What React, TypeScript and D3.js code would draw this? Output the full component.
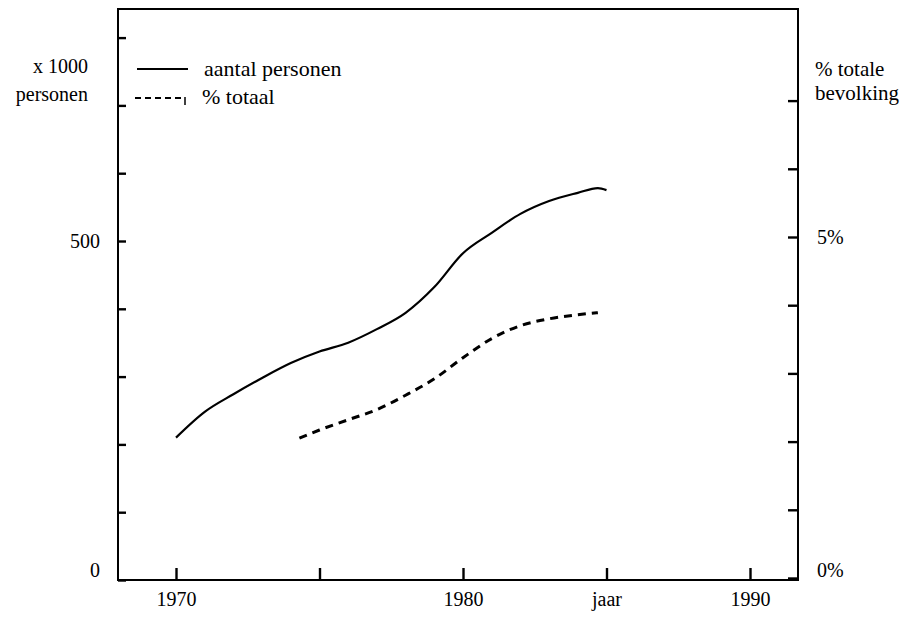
import React, { useRef, useEffect } from "react";
import { select, scaleLinear, line, curveMonotoneX, axisLeft, axisRight, axisBottom } from "d3";

// aantal personen (x 1000)
const personYears = [1970, 1971, 1972, 1973, 1974, 1975, 1976, 1977, 1978, 1979, 1980, 1981, 1982, 1983, 1984, 1984.7, 1985];
const personValues = [210, 248, 274, 298, 320, 337, 350, 370, 394, 432, 482, 512, 540, 559, 571, 578, 575];

// % totale bevolking
const pctYears = [1974.3, 1975, 1976, 1977, 1978, 1979, 1980, 1981, 1982, 1983, 1984, 1984.7];
const pctValues = [2.05, 2.17, 2.32, 2.47, 2.68, 2.92, 3.23, 3.51, 3.7, 3.8, 3.86, 3.89];

const leftTicks = [0, 100, 200, 300, 400, 500, 600, 700, 800];
const leftLabels = ["0", "", "", "", "", "500", "", "", ""];
const rightTicks = [0, 1, 2, 3, 4, 5, 6, 7];
const rightLabels = ["0%", "", "", "", "", "5%", "", ""];
const yearTicks = [1970, 1975, 1980, 1985, 1990];
const yearLabels = ["1970", "", "1980", "jaar", "1990"];
const legendLabels = ["aantal personen", "% totaal"];
const leftTitle = ["x 1000", "personen"];
const rightTitle = ["% totale", "bevolking"];

export default function App() {
    const svgRef = useRef<SVGSVGElement>(null);
    const width = 916;
    const height = 617;
    const frame = { left: 118, right: 798, top: 9, bottom: 580 };
    const font = "'Liberation Serif', 'DejaVu Serif', serif";

    useEffect(() => {
        draw();
    }, []);

    const draw = () => {
        const svg = select(svgRef.current);
        svg.selectAll("*").remove();

        const x = scaleLinear().domain([1970, 1990]).range([176, 750]);
        const yLeft = scaleLinear().domain([0, 500]).range([frame.bottom, 241]);
        const yRight = scaleLinear().domain([0, 5]).range([578, 237]);

        // frame
        svg.append("rect")
            .attr("x", frame.left)
            .attr("y", frame.top)
            .attr("width", frame.right - frame.left)
            .attr("height", frame.bottom - frame.top)
            .attr("fill", "none")
            .attr("stroke", "#000")
            .attr("stroke-width", 2);

        const styleAxis = (g: any) => {
            g.select(".domain").remove();
            g.selectAll(".tick line").attr("stroke", "#000").attr("stroke-width", 2.4);
            g.selectAll(".tick text")
                .attr("fill", "#000")
                .attr("font-family", font)
                .attr("font-size", 20);
        };

        svg.append("g")
            .attr("transform", `translate(${frame.left},0)`)
            .call(axisLeft(yLeft)
                .tickValues(leftTicks)
                .tickSizeInner(-8)
                .tickSizeOuter(0)
                .tickPadding(18)
                .tickFormat((d, i) => leftLabels[i]))
            .call(styleAxis)
            .call(g => g.selectAll(".tick text").filter((d: any) => d === 0).attr("y", -10));

        svg.append("g")
            .attr("transform", `translate(${frame.right},0)`)
            .call(axisRight(yRight)
                .tickValues(rightTicks)
                .tickSizeInner(-10)
                .tickSizeOuter(0)
                .tickPadding(19)
                .tickFormat((d, i) => rightLabels[i]))
            .call(styleAxis)
            .call(g => g.selectAll(".tick text").filter((d: any) => d === 0).attr("y", -8));

        svg.append("g")
            .attr("transform", `translate(0,${frame.bottom})`)
            .call(axisBottom(x)
                .tickValues(yearTicks)
                .tickSizeInner(-12)
                .tickSizeOuter(0)
                .tickPadding(12)
                .tickFormat((d, i) => yearLabels[i]))
            .call(styleAxis);

        // axis titles
        leftTitle.forEach((t, i) => {
            svg.append("text")
                .attr("x", 88)
                .attr("y", 73 + i * 28)
                .attr("text-anchor", "end")
                .attr("font-family", font)
                .attr("font-size", 20)
                .text(t);
        });
        rightTitle.forEach((t, i) => {
            svg.append("text")
                .attr("x", 815)
                .attr("y", 76 + i * 24)
                .attr("font-family", font)
                .attr("font-size", 21)
                .text(t);
        });

        // series
        const personLine = line<number>()
            .x((d, i) => x(personYears[i]))
            .y(d => yLeft(d))
            .curve(curveMonotoneX);
        svg.append("path")
            .attr("d", personLine(personValues))
            .attr("fill", "none")
            .attr("stroke", "#000")
            .attr("stroke-width", 2.2);

        const pctLine = line<number>()
            .x((d, i) => x(pctYears[i]))
            .y(d => yRight(d))
            .curve(curveMonotoneX);
        svg.append("path")
            .attr("d", pctLine(pctValues))
            .attr("fill", "none")
            .attr("stroke", "#000")
            .attr("stroke-width", 3)
            .attr("stroke-dasharray", "8 6");

        // legend
        const legend = svg.append("g").attr("font-family", font).attr("font-size", 22);
        legend.append("line")
            .attr("x1", 137).attr("x2", 188)
            .attr("y1", 69).attr("y2", 69)
            .attr("stroke", "#000").attr("stroke-width", 2);
        legend.append("text")
            .attr("x", 204).attr("y", 69).attr("dy", "0.32em")
            .text(legendLabels[0]);
        legend.append("line")
            .attr("x1", 135).attr("x2", 185)
            .attr("y1", 98).attr("y2", 98)
            .attr("stroke", "#000").attr("stroke-width", 2)
            .attr("stroke-dasharray", "6 4");
        legend.append("line")
            .attr("x1", 185).attr("x2", 185)
            .attr("y1", 97).attr("y2", 105)
            .attr("stroke", "#000").attr("stroke-width", 1.5);
        legend.append("text")
            .attr("x", 202).attr("y", 97).attr("dy", "0.32em")
            .text(legendLabels[1]);
    };

    return (
        <svg
            ref={svgRef}
            width={width}
            height={height}
            style={{ position: "absolute", left: 0, top: 0, background: "#fff" }}
        ></svg>
    );
}
